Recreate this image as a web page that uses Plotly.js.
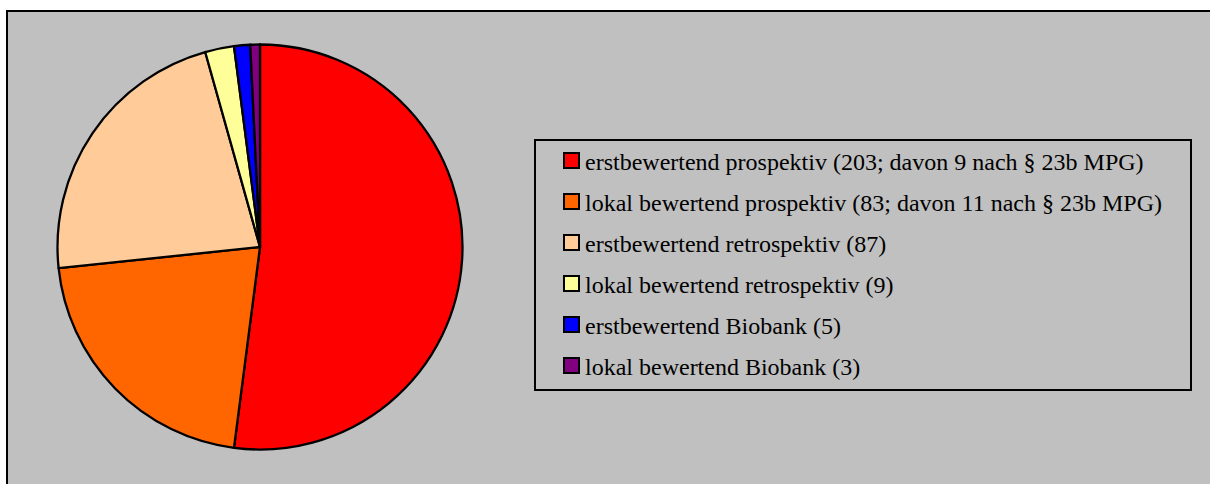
<!DOCTYPE html>
<html>
<head>
<meta charset="utf-8">
<script src="https://cdn.plot.ly/plotly-3.0.1.min.js"></script>
<style>html,body{margin:0;padding:0;background:#fff;}#chart{width:1210px;height:484px;}</style>
</head>
<body>
<div id="chart"></div>
<script>
const labels = [
  "erstbewertend prospektiv (203; davon 9 nach § 23b MPG)",
  "lokal bewertend prospektiv (83; davon 11 nach § 23b MPG)",
  "erstbewertend retrospektiv (87)",
  "lokal bewertend retrospektiv (9)",
  "erstbewertend Biobank (5)",
  "lokal bewertend Biobank (3)"
];
const values = [203, 83, 87, 9, 5, 3];
const colors = ["#FF0000", "#FF6600", "#FFCC99", "#FFFF99", "#0000FF", "#800080"];

const W = 1210, H = 484;
const px = x => x / W;
const py = y => 1 - y / H;

const shapes = [
  {type: "rect", xref: "paper", yref: "paper", layer: "below",
   x0: px(7), x1: px(1230), y0: py(500), y1: py(11),
   fillcolor: "#C0C0C0", line: {color: "#000", width: 2}},
  {type: "rect", xref: "paper", yref: "paper", layer: "above",
   x0: px(535), x1: px(1191), y0: py(390), y1: py(140),
   fillcolor: "rgba(0,0,0,0)", line: {color: "#000", width: 2}}
];
const annotations = [];
const rowTop = 160.5, rowGap = 41;
labels.forEach((lab, i) => {
  const cy = rowTop + i * rowGap;
  shapes.push({type: "rect", xref: "paper", yref: "paper", layer: "above",
    x0: px(564), x1: px(579), y0: py(cy + 7.5), y1: py(cy - 7.5),
    fillcolor: colors[i], line: {color: "#000", width: 2}});
  annotations.push({xref: "paper", yref: "paper", x: px(583), y: py(cy + 1),
    xanchor: "left", yanchor: "middle", showarrow: false, text: lab,
    font: {family: "Liberation Serif", size: 24, color: "#000"}});
});

const data = [{
  type: "pie",
  labels: labels,
  values: values,
  sort: false,
  direction: "clockwise",
  rotation: 0,
  marker: {colors: colors, line: {color: "#000", width: 2.3}},
  textinfo: "none",
  hoverinfo: "label+value",
  showlegend: false,
  domain: {x: [px(57.5), px(462.5)], y: [py(449.5), py(44.5)]}
}];

const layout = {
  width: W, height: H,
  margin: {l: 0, r: 0, t: 0, b: 0},
  paper_bgcolor: "#FFFFFF",
  font: {family: "Liberation Serif"},
  showlegend: false,
  shapes: shapes,
  annotations: annotations
};

Plotly.newPlot("chart", data, layout, {displayModeBar: false, staticPlot: true});
</script>
</body>
</html>
